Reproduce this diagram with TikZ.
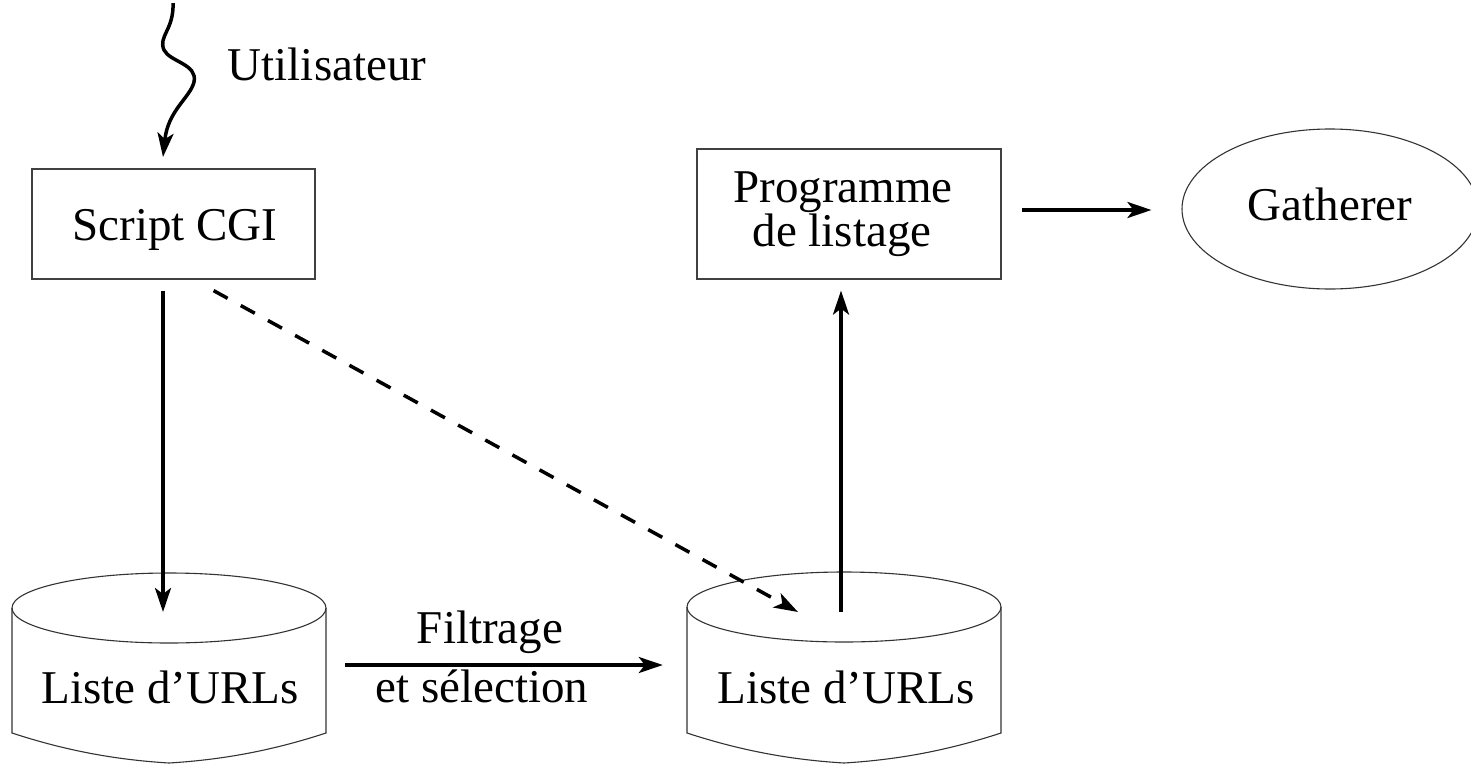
\documentclass[tikz,border=0pt]{standalone}
\usepackage{fontspec}
\setmainfont{Liberation Serif}
\usetikzlibrary{arrows.meta,shapes.geometric,calc}
\begin{document}
\begin{tikzpicture}[x=1pt,y=-1pt,
  txt/.style={font=\fontsize{47}{52}\selectfont, inner sep=0pt, anchor=base},
  box/.style={draw=black!75, line width=1.2pt, rectangle, inner sep=0pt},
  thin/.style={draw=black!80, line width=1.1pt},
  arr/.style={line width=3.5pt, -{Stealth[length=24pt,width=16pt,inset=6pt]}},
  dsh/.style={arr, dash pattern=on 16pt off 15pt},
  hidden/.style={inner sep=0pt, minimum width=314pt, minimum height=190pt}
 ]
\useasboundingbox (0,0) rectangle (1471,763);
% boxes
\node[box, minimum width=283pt, minimum height=110pt] (cgi) at (173.5,224) {};
\node[txt] (cgit) at (175,240) {Script CGI};
\node[box, minimum width=304pt, minimum height=130pt] (prog) at (849,214) {};
\node[txt] (progt1) at (843,202) {Programme};
\node[txt] (progt2) at (842,246) {de listage};
\node[thin, ellipse, minimum width=296pt, minimum height=160pt, inner sep=0pt] (gath) at (1330,209) {};
\node[txt] (gatht) at (1330,220) {Gatherer};
% cylinders
\node[hidden] (c1) at (169,665) {};
\node[hidden] (c2) at (844,665) {};
\draw[thin] (169,608) ellipse [x radius=157, y radius=35];
\draw[thin] (12,608) -- (12,733) .. controls (70,752) and (120,760) .. (169,763)
  .. controls (218,760) and (268,752) .. (326,733) -- (326,608);
\draw[thin] (844,607) ellipse [x radius=157, y radius=35];
\draw[thin] (687,607) -- (687,733) .. controls (745,752) and (795,760) .. (844,763)
  .. controls (893,760) and (943,752) .. (1001,733) -- (1001,607);
\node[txt] (l1) at (170,703) {Liste d’URLs};
\node[txt] (l2) at (846,703) {Liste d’URLs};
% user
\node[txt] (user) at (327,80) {Utilisateur};
\coordinate (utop) at (173,3);
\coordinate (uend) at (163,157);
\draw[arr] (utop) .. controls (174,30) and (158,36) .. (164,50)
  .. controls (170,62) and (198,64) .. (194,82)
  .. controls (190,98) and (168,110) .. (uend);
% connectors
\coordinate (l1in) at (163,612);
\coordinate (l2in) at (798,612);
\coordinate (l2out) at (841,612);
\draw[arr] ($(cgi.south)+(-10.5,11)$) -- (l1in);
\draw[dsh] ($(cgi.south east)+(-102,11)$) -- (l2in);
\draw[arr] (l2out) -- ($(prog.south)+(-8,11)$);
\draw[arr] ($(prog.east)+(20,-4)$) -- ($(gath.west)+(-30,1)$);
\draw[arr] ($(c1.east)+(19,0)$) -- ($(c2.west)+(-24,0)$);
\node[txt] (f1) at (490,643) {Filtrage};
\node[txt] (f2) at (482,702) {et sélection};
\end{tikzpicture}
\end{document}
